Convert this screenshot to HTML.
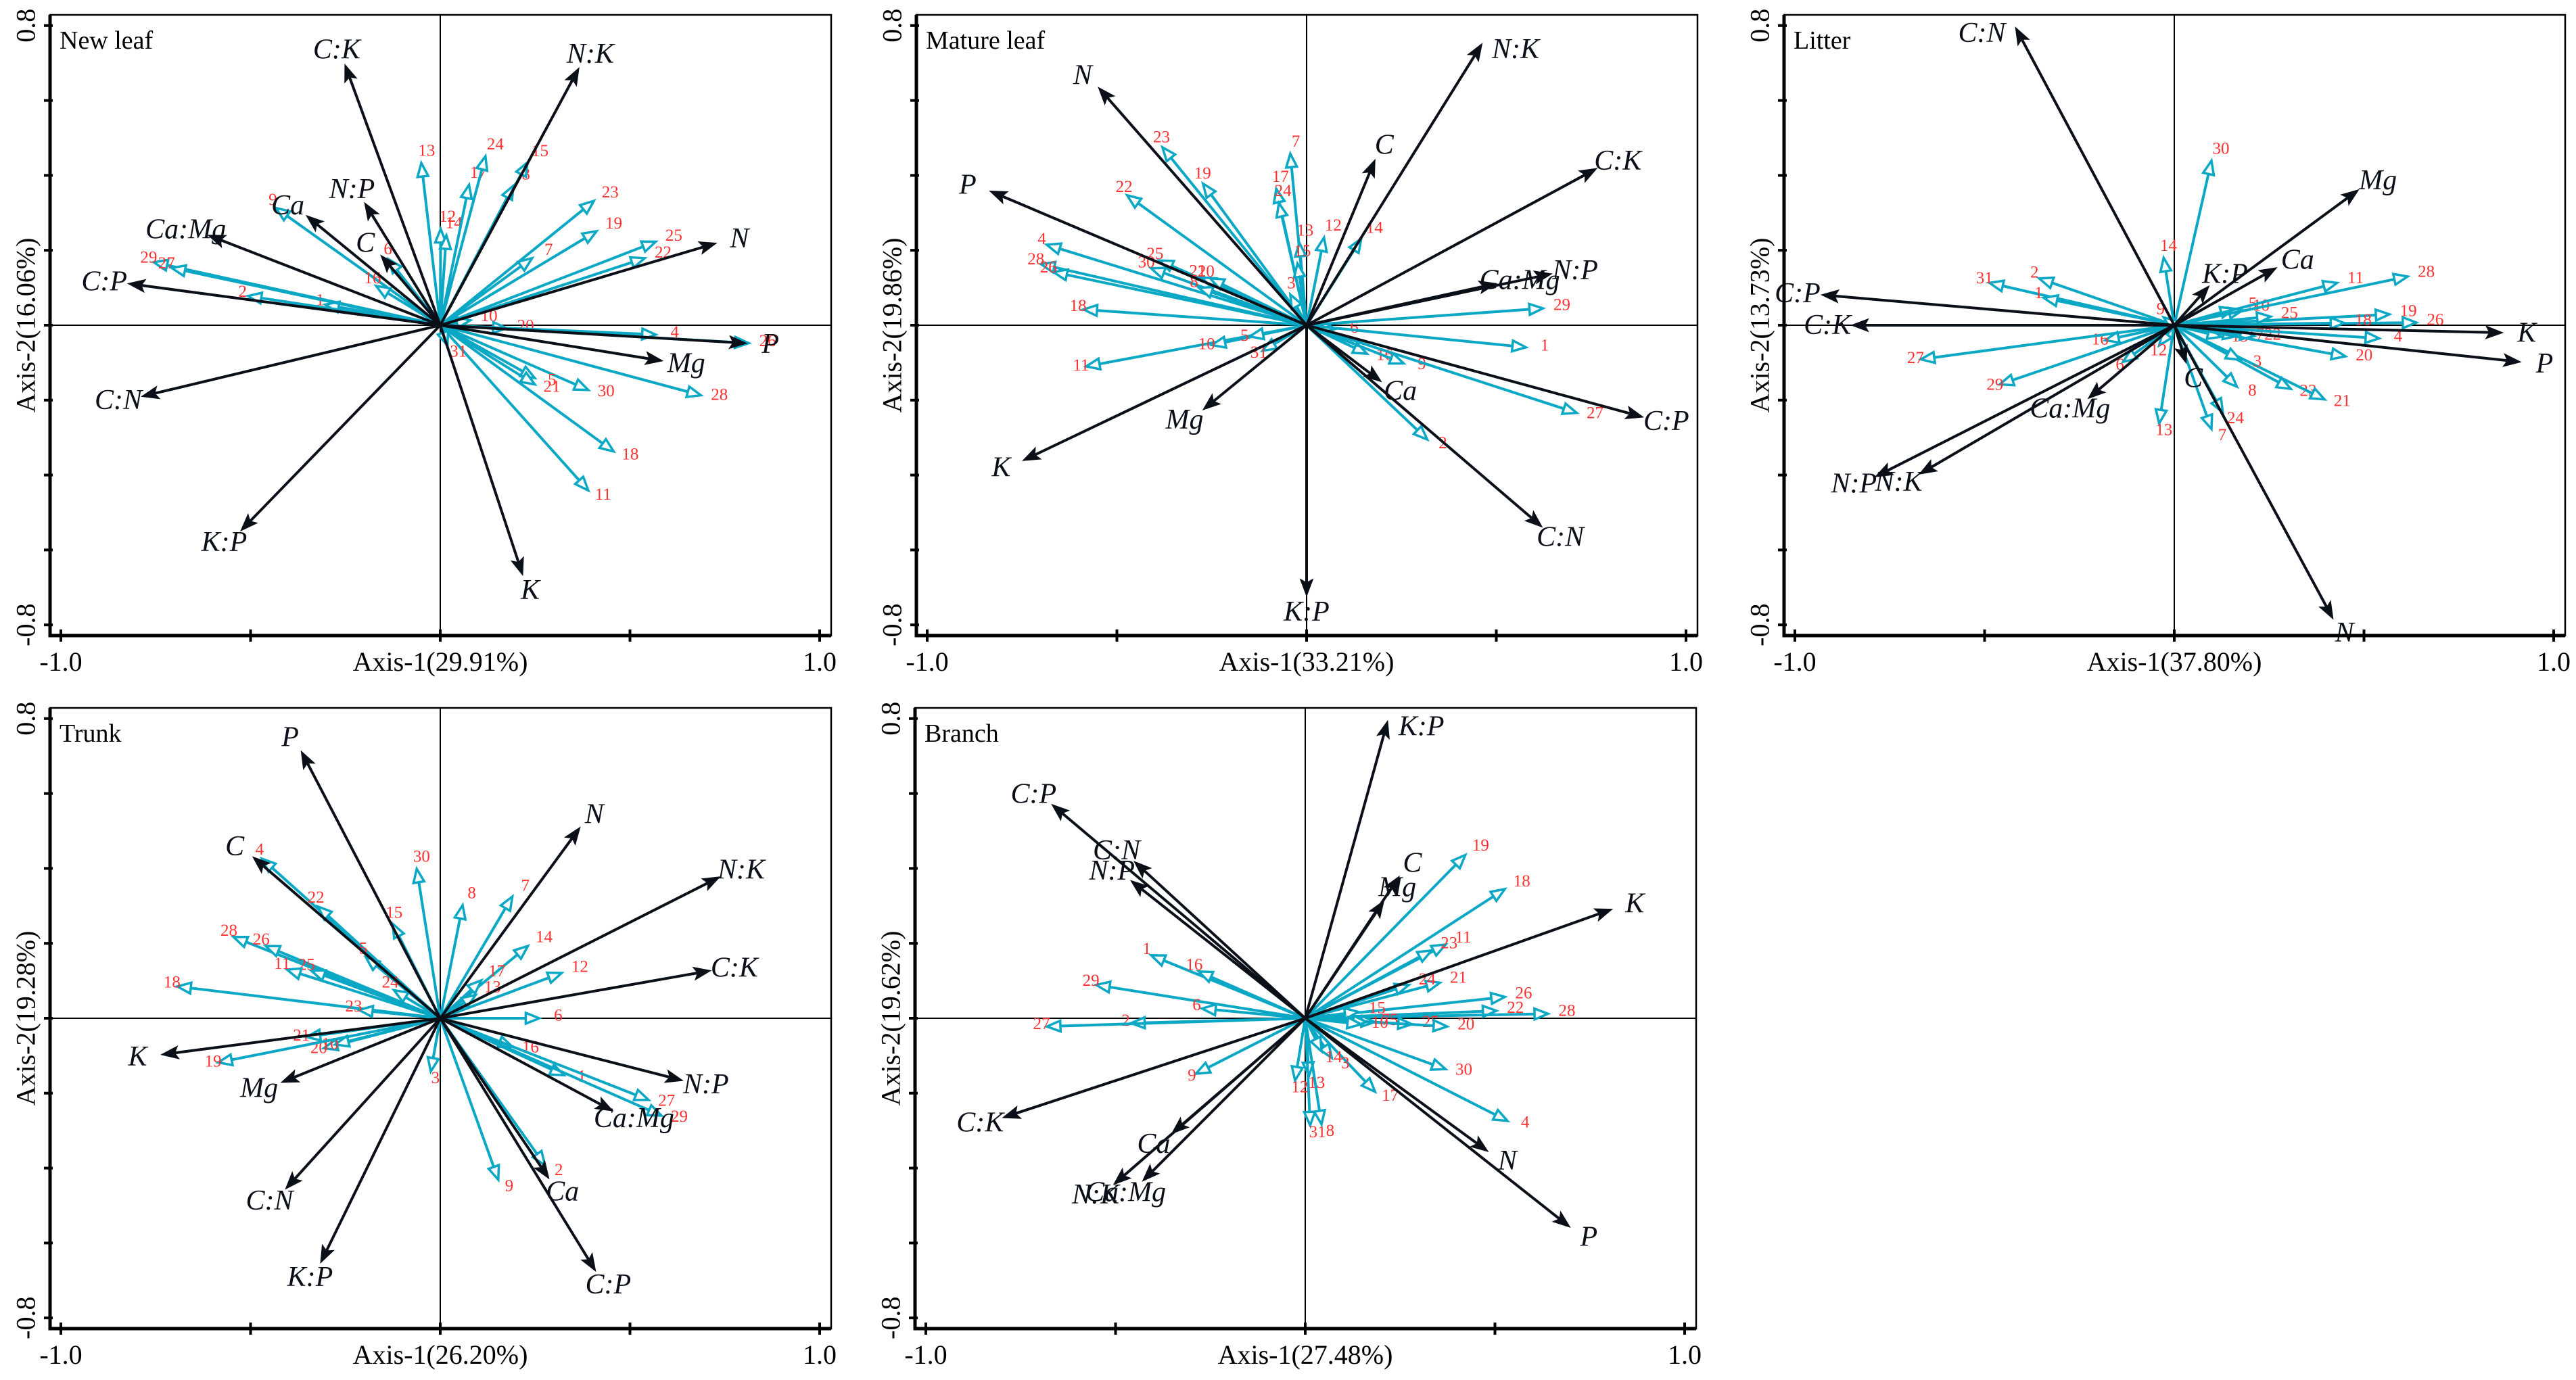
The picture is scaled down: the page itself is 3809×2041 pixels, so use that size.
<!DOCTYPE html>
<html><head><meta charset="utf-8"><title>Biplots</title>
<style>html,body{margin:0;padding:0;background:#fff}svg{display:block}svg text{font-family:"Liberation Serif","Times New Roman",Times,"DejaVu Serif",serif}</style></head>
<body>
<svg id="fig" xmlns="http://www.w3.org/2000/svg" width="3809" height="2041" viewBox="0 0 3809 2041"></svg>
<script>
// ---- Panel 1: New leaf ----
const nlVarNames = ["C:K","N:K","N:P","Ca","C","Ca:Mg","C:P","C:N","K:P","K","Mg","P","N"];
const nlVarX = [-0.251,0.365,-0.199,-0.352,-0.156,-0.611,-0.822,-0.786,-0.525,0.217,0.585,0.806,0.727];
const nlVarY = [0.695,0.686,0.326,0.292,0.186,0.240,0.111,-0.190,-0.548,-0.666,-0.095,-0.048,0.219];
const nlSiteNames = ["1","2","9","16","6","29","27","13","12","14","17","24","8","15","23","7","19","25","22","10","20","4","26","28","30","5","21","18","11","31"];
const nlSiteX = [-0.303,-0.507,-0.433,-0.169,-0.136,-0.755,-0.708,-0.050,0.001,0.016,0.076,0.119,0.193,0.230,0.405,0.242,0.412,0.568,0.539,0.079,0.175,0.568,0.813,0.687,0.390,0.249,0.249,0.457,0.390,0.019];
const nlSiteY = [0.055,0.078,0.313,0.105,0.176,0.168,0.153,0.433,0.257,0.240,0.375,0.451,0.373,0.435,0.332,0.179,0.251,0.223,0.179,0.013,-0.008,-0.025,-0.048,-0.187,-0.173,-0.141,-0.158,-0.337,-0.441,-0.054];
// ---- Panel 2: Mature leaf ----
const mlVarNames = ["N","P","K","Mg","K:P","C:N","Ca","C:P","N:P","Ca:Mg","C:K","N:K","C"];
const mlVarX = [-0.548,-0.834,-0.747,-0.272,0.0,0.620,0.196,0.886,0.645,0.499,0.764,0.462,0.180];
const mlVarY = [0.634,0.358,-0.361,-0.225,-0.722,-0.538,-0.150,-0.245,0.137,0.111,0.418,0.751,0.441];
const mlSiteNames = ["23","19","22","7","17","24","13","15","12","14","3","4","28","26","25","30","21","20","8","18","11","10","5","31","6","29","1","16","9","27","2"];
const mlSiteX = [-0.380,-0.273,-0.473,-0.043,-0.080,-0.073,-0.019,-0.024,0.046,0.144,-0.043,-0.685,-0.700,-0.667,-0.388,-0.410,-0.276,-0.254,-0.284,-0.588,-0.581,-0.250,-0.150,-0.116,0.076,0.623,0.578,0.159,0.256,0.712,0.318];
const mlSiteY = [0.475,0.378,0.347,0.458,0.364,0.326,0.220,0.165,0.234,0.231,0.082,0.215,0.163,0.142,0.173,0.152,0.127,0.125,0.100,0.042,-0.110,-0.053,-0.030,-0.068,-0.010,0.045,-0.059,-0.076,-0.102,-0.234,-0.305];
// ---- Panel 3: Litter ----
const ltVarNames = ["C:N","Mg","Ca","K:P","C:P","C:K","K","P","C","Ca:Mg","N:P","N:K","N"];
const ltVarX = [-0.418,0.485,0.269,0.091,-0.929,-0.850,0.865,0.912,0.031,-0.226,-0.787,-0.671,0.418];
const ltVarY = [0.794,0.361,0.153,0.104,0.081,0.0,-0.020,-0.098,-0.100,-0.195,-0.404,-0.397,-0.783];
const ltSiteNames = ["30","14","2","31","1","9","16","27","29","6","12","13","7","24","8","23","21","3","15","17","22","20","4","26","19","18","25","10","5","11","28"];
const ltSiteX = [0.098,-0.028,-0.356,-0.487,-0.344,-0.028,-0.182,-0.668,-0.460,-0.135,-0.040,-0.040,0.098,0.128,0.165,0.307,0.396,0.173,0.124,0.165,0.210,0.451,0.540,0.638,0.567,0.448,0.254,0.180,0.158,0.429,0.615];
const ltSiteY = [0.439,0.180,0.125,0.113,0.073,0.021,-0.040,-0.091,-0.158,-0.098,-0.054,-0.262,-0.277,-0.233,-0.164,-0.170,-0.198,-0.092,-0.031,-0.029,-0.029,-0.083,-0.035,0.007,0.029,0.006,0.023,0.040,0.044,0.113,0.130];
// ---- Panel 4: Trunk ----
const trVarNames = ["P","C","N","N:K","C:K","N:P","Ca:Mg","Ca","C:P","K:P","C:N","Mg","K"];
const trVarX = [-0.366,-0.493,0.368,0.736,0.712,0.638,0.454,0.286,0.409,-0.315,-0.407,-0.418,-0.734];
const trVarY = [0.712,0.430,0.509,0.377,0.127,-0.166,-0.247,-0.427,-0.674,-0.652,-0.455,-0.171,-0.097];
const trSiteNames = ["4","22","30","15","8","7","28","26","25","5","11","18","24","23","14","17","13","12","6","16","1","27","29","2","9","3","21","20","10","19"];
const trSiteX = [-0.470,-0.322,-0.062,-0.125,0.059,0.190,-0.545,-0.460,-0.340,-0.196,-0.404,-0.693,-0.122,-0.214,0.231,0.108,0.093,0.320,0.261,0.190,0.326,0.549,0.583,0.276,0.153,-0.025,-0.352,-0.307,-0.277,-0.585];
const trSiteY = [0.426,0.298,0.399,0.252,0.302,0.325,0.217,0.193,0.127,0.163,0.130,0.085,0.075,0.022,0.193,0.101,0.062,0.121,0.0,-0.076,-0.152,-0.218,-0.260,-0.392,-0.431,-0.142,-0.050,-0.080,-0.070,-0.118];
// ---- Panel 5: Branch ----
const brVarNames = ["K:P","C:P","C:N","N:P","Mg","C","K","N","P","C:K","Ca","N:K","Ca:Mg"];
const brVarX = [0.217,-0.667,-0.450,-0.459,0.207,0.247,0.808,0.481,0.697,-0.796,-0.351,-0.504,-0.428];
const brVarY = [0.793,0.570,0.418,0.367,0.313,0.378,0.291,-0.355,-0.557,-0.265,-0.307,-0.443,-0.434];
const brSiteNames = ["19","18","11","23","21","24","26","22","28","15","5","25","20","7","10","30","4","17","3","14","12","13","31","8","9","1","16","29","6","2","27"];
const brSiteX = [0.422,0.526,0.370,0.333,0.355,0.273,0.526,0.504,0.640,0.140,0.184,0.281,0.374,0.162,0.147,0.370,0.533,0.184,0.070,0.043,-0.027,0.010,0.013,0.043,-0.288,-0.406,-0.281,-0.551,-0.272,-0.459,-0.681];
const brSiteY = [0.436,0.345,0.197,0.181,0.095,0.089,0.057,0.020,0.012,0.017,-0.010,-0.016,-0.022,-0.010,-0.016,-0.136,-0.274,-0.196,-0.106,-0.088,-0.166,-0.154,-0.286,-0.283,-0.148,0.168,0.125,0.089,0.026,-0.013,-0.022];

const xTickVals = [-1.0,-0.5,0,0.5,1.0];
const yTickVals = [-0.8,-0.6,-0.4,-0.2,0,0.2,0.4,0.6,0.8];
const xTickLabels = ["-1.0","1.0"];
const yTickLabels = ["-0.8","0.8"];

const NS = "http://www.w3.org/2000/svg";
const svg = document.getElementById("fig");
const CYAN = "#0aa8c4", RED = "#ff3030", BLK = "#0b0f18";
function mk(tag, attrs, parent) {
  const e = document.createElementNS(NS, tag);
  for (const k in attrs) e.setAttribute(k, attrs[k]);
  (parent || svg).appendChild(e);
  return e;
}
const panels = [
  {key:"new-leaf", title:"New leaf", axis1:"Axis-1(29.91%)", axis2:"Axis-2(16.06%)", left:74, top:22, vn:nlVarNames, vx:nlVarX, vy:nlVarY, sn:nlSiteNames, sx:nlSiteX, sy:nlSiteY},
  {key:"mature-leaf", title:"Mature leaf", axis1:"Axis-1(33.21%)", axis2:"Axis-2(19.86%)", left:1355, top:22, vn:mlVarNames, vx:mlVarX, vy:mlVarY, sn:mlSiteNames, sx:mlSiteX, sy:mlSiteY},
  {key:"litter", title:"Litter", axis1:"Axis-1(37.80%)", axis2:"Axis-2(13.73%)", left:2638, top:22, vn:ltVarNames, vx:ltVarX, vy:ltVarY, sn:ltSiteNames, sx:ltSiteX, sy:ltSiteY},
  {key:"trunk", title:"Trunk", axis1:"Axis-1(26.20%)", axis2:"Axis-2(19.28%)", left:74, top:1047, vn:trVarNames, vx:trVarX, vy:trVarY, sn:trSiteNames, sx:trSiteX, sy:trSiteY},
  {key:"branch", title:"Branch", axis1:"Axis-1(27.48%)", axis2:"Axis-2(19.62%)", left:1353, top:1047, vn:brVarNames, vx:brVarX, vy:brVarY, sn:brSiteNames, sx:brSiteX, sy:brSiteY}
];
const FW = 1155, FH = 918, UX = 561, UY = 554;
const FONT = "Liberation Serif, Times New Roman, Times, serif";

function arrow(g, ox, oy, tx, ty, filled, name) {
  const dx = tx - ox, dy = ty - oy, L = Math.hypot(dx, dy) || 1;
  const ux = dx / L, uy = dy / L, px = -uy, py = ux;
  const hl = filled ? 24 : 20, hw = filled ? 9 : 8;
  const bx = tx - ux * hl, by = ty - uy * hl;
  const ln = mk("line", {x1:ox, y1:oy, x2: filled ? bx + ux*4 : bx, y2: filled ? by + uy*4 : by, stroke: filled ? BLK : CYAN, "stroke-width": 4}, g);
  
  
  const pts = [tx, ty, bx + px*hw, by + py*hw, bx + ux*5, by + uy*5, bx - px*hw, by - py*hw].map(v => v.toFixed(1)).join(" ");
  const hd = mk("polygon", filled ? {points: pts, fill: BLK, stroke: BLK, "stroke-width": 1.5}
                                : {points: [tx,ty,bx+px*hw,by+py*hw,bx-px*hw,by-py*hw].map(v=>v.toFixed(1)).join(" "), fill:"#fff", stroke: CYAN, "stroke-width": 3.5}, g);
  
  
  return [ux, uy];
}

panels.forEach(p => {
  const g = mk("g", {"font-family": FONT});
  
  
  const ox = p.left + 16 + UX, oy = p.top + FH / 2;
  const sx = v => ox + v * UX, sy = v => oy - v * UY;
  const ax = mk("line", {x1:p.left, y1:oy, x2:p.left+FW, y2:oy, stroke:"#000", "stroke-width":2}, g);
  
  
  const ay = mk("line", {x1:ox, y1:p.top, x2:ox, y2:p.top+FH, stroke:"#000", "stroke-width":2}, g);
  
  
  p.sn.forEach((n, i) => {
    const tx = sx(p.sx[i]), ty = sy(p.sy[i]);
    const d = arrow(g, ox, oy, tx, ty, false, 'site-' + n + '-arrow');
    const t = mk("text", {x: tx + d[0]*18 + 10, y: ty + d[1]*14 - 4, fill: RED, "font-size": 25, "text-anchor":"middle", "dominant-baseline":"central"}, g);
    t.textContent = n;
    
    
  });
  p.vn.forEach((n, i) => {
    const tx = sx(p.vx[i]), ty = sy(p.vy[i]);
    const d = arrow(g, ox, oy, tx, ty, true, 'var-' + n.replace(':','-').toLowerCase() + '-arrow');
    let lx = tx + d[0]*36, ly = ty + d[1]*24;
    if (ly < p.top + 30) { ly = ty + 8; lx = tx + (d[0] < 0 ? -50 : 50); }
    const t = mk("text", {x: lx, y: ly, fill: BLK, "font-size": 42, "font-style":"italic", "text-anchor":"middle", "dominant-baseline":"central"}, g);
    t.textContent = n;
    
    
  });
  const fr = mk("rect", {x:p.left, y:p.top, width:FW, height:FH, fill:"none", stroke:"#000", "stroke-width":2.5}, g);
  
  
  const fl = mk("path", {d:`M${p.left} ${p.top} V${p.top+FH} H${p.left+FW}`, fill:"none", stroke:"#000", "stroke-width":5}, g);
  
  
  xTickVals.forEach(v => {
    const tk = mk("line", {x1:sx(v), y1:p.top+FH-9, x2:sx(v), y2:p.top+FH+9, stroke:"#000", "stroke-width":4}, g);
    
    
  });
  yTickVals.forEach(v => {
    const tk = mk("line", {x1:p.left-9, y1:sy(v), x2:p.left+4, y2:sy(v), stroke:"#000", "stroke-width":4}, g);
    
    
  });
  [[-1, xTickLabels[0]], [1, xTickLabels[1]]].forEach(([v, s]) => {
    const t = mk("text", {x: sx(v), y: p.top+FH+52, "font-size":40, "text-anchor":"middle", fill:"#000"}, g);
    t.textContent = s;
    
    
  });
  [[-0.8, yTickLabels[0]], [0.8, yTickLabels[1]]].forEach(([v, s]) => {
    const cx = p.left - 36, cy = sy(v);
    const t = mk("text", {x: cx, y: cy, "font-size":40, "text-anchor":"middle", "dominant-baseline":"central", fill:"#000", transform:`rotate(-90 ${cx} ${cy})`}, g);
    t.textContent = s;
    
    
  });
  const xt = mk("text", {x: ox, y: p.top+FH+52, "font-size":40, "text-anchor":"middle", fill:"#000"}, g);
  xt.textContent = p.axis1;
  
  
  const ycx = p.left - 36;
  const yt = mk("text", {x: ycx, y: oy, "font-size":40, "text-anchor":"middle", "dominant-baseline":"central", fill:"#000", transform:`rotate(-90 ${ycx} ${oy})`}, g);
  yt.textContent = p.axis2;
  
  
  const tt = mk("text", {x: p.left + 14, y: p.top + 50, "font-size":38, fill:"#000"}, g);
  tt.textContent = p.title;
  
  
});
</script>
</body></html>
